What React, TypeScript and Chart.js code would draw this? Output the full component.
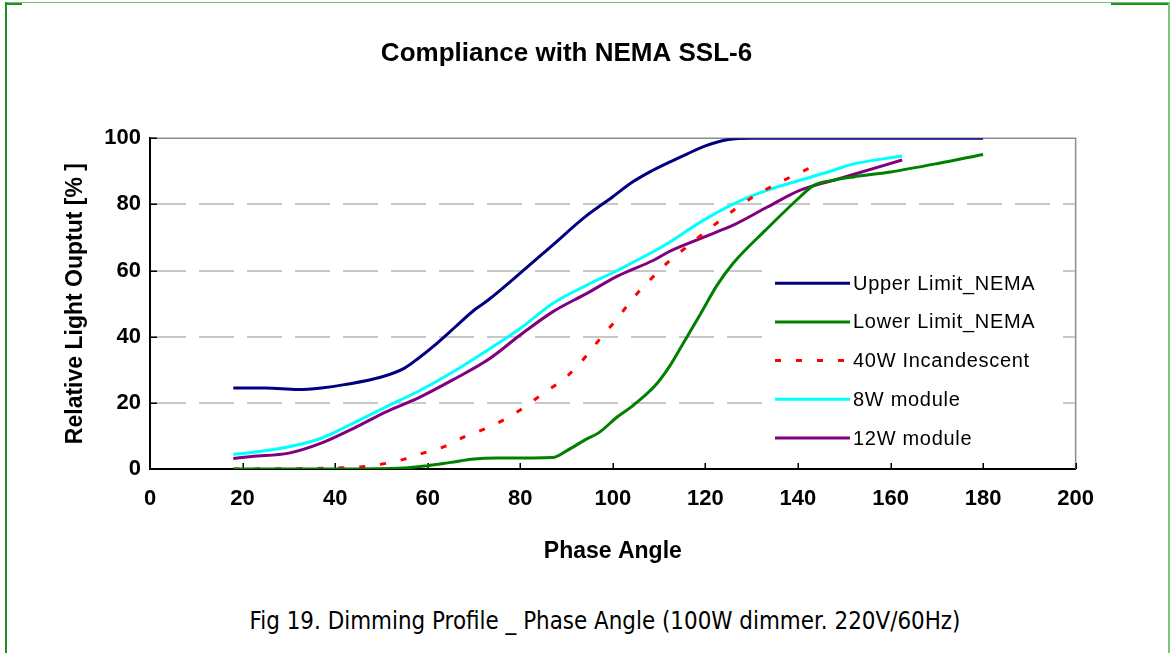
import React, { useEffect, useLayoutEffect, useRef, useState } from "react";
import { Chart, registerables } from "chart.js";

Chart.register(...registerables);

// ---------- data ----------
const titleText = "Compliance with NEMA SSL-6";
const xAxisTitle = "Phase Angle";
const yAxisTitle = "Relative Light Ouptut [% ]";
const captionText = "Fig 19. Dimming Profile _ Phase Angle (100W dimmer. 220V/60Hz)";

const seriesNames = ["Upper Limit_NEMA", "Lower Limit_NEMA", "40W Incandescent", "8W module", "12W module"];

const upperX = [18, 25, 32, 37, 42, 50, 55, 58, 62, 66, 70, 73, 80, 87, 94, 100, 104, 108, 112, 116, 120, 125, 130, 180];
const upperY = [24.5, 24.5, 24, 24.5, 25.5, 27.8, 30.5, 33.5, 38, 43, 48, 51, 59.2, 67.7, 76.2, 82.3, 86.5, 89.8, 92.6, 95.2, 97.7, 99.6, 100, 100];

const lowerX = [18, 40, 55, 60, 65, 70, 75, 87, 90, 94, 97, 101, 104, 109, 112, 115, 119, 122.5, 126, 133, 140.5, 143.5, 147.7, 152, 160, 170, 180];
const lowerY = [0, 0, 0.3, 1, 2, 3, 3.3, 3.5, 5.5, 8.8, 11, 15.8, 18.8, 25, 30.5, 37.5, 47, 55.5, 62.2, 72.2, 82.3, 85.8, 87.3, 88.3, 89.8, 92.3, 95.1];

const incX = [18, 40, 48, 52, 55, 59, 64, 68, 73, 77, 81, 85, 90, 94.4, 97.6, 101, 104, 108, 112, 116, 120, 124, 127, 131, 135.5, 140, 144];
const incY = [0, 0.3, 1, 2, 3, 4.8, 7, 9.8, 12.5, 15.3, 18.8, 22.9, 27.9, 34.4, 40, 45.5, 51, 57.1, 62.6, 67.2, 71.7, 76, 79.2, 82.8, 86.3, 89.3, 92];

const w8X = [18, 22, 30, 37, 44, 51, 58, 65.5, 73, 80, 87, 94.4, 101, 104.4, 109, 112, 119, 126, 133.4, 140.5, 147.7, 151.4, 162.5];
const w8Y = [4.4, 5, 6.7, 9.3, 13.9, 18.8, 23.5, 29.4, 36, 42.5, 50, 55.6, 60, 62.5, 65.9, 68.3, 74.7, 80.1, 84.3, 87.3, 90.3, 92, 94.6];

const w12X = [18, 22, 30, 37, 44, 51, 58, 65.5, 73, 80, 87, 94.4, 101, 108.8, 112, 119, 122.5, 126, 133.4, 140.5, 147.7, 151.4, 162.5];
const w12Y = [3.2, 3.8, 4.8, 7.8, 12.3, 17.3, 21.5, 27, 33, 40.5, 47.5, 53.1, 58.3, 63.1, 65.6, 69.7, 71.7, 73.7, 79.2, 84.3, 87.3, 88.8, 93.4];

const seriesColors = ["#000080", "#008000", "#ff0000", "#00ffff", "#800080"];

// ---------- plugins ----------
const framePlugin = {
  id: "frame",
  beforeDatasetsDraw(chart: any) {
    const { ctx, chartArea: a, scales } = chart;
    const x = scales.x;
    const y = scales.y;
    ctx.save();
    ctx.strokeStyle = "#8c8c8c";
    ctx.lineWidth = 1.5;
    ctx.beginPath();
    ctx.moveTo(a.left, a.top);
    ctx.lineTo(a.right, a.top);
    ctx.lineTo(a.right, a.bottom);
    ctx.stroke();
    ctx.strokeStyle = "#000000";
    ctx.lineWidth = 1.5;
    ctx.beginPath();
    for (const t of x.ticks) {
      if (t.value === 0) continue;
      const px = Math.round(x.getPixelForValue(t.value)) + 0.25;
      ctx.moveTo(px, a.bottom);
      ctx.lineTo(px, a.bottom - 6);
    }
    for (const t of y.ticks) {
      if (t.value === 0) continue;
      const py = Math.round(y.getPixelForValue(t.value)) + 0.25;
      ctx.moveTo(a.left, py);
      ctx.lineTo(a.left + 7, py);
    }
    ctx.stroke();
    ctx.restore();
  },
};

const legendPlugin = {
  id: "boxLegend",
  afterDraw(chart: any) {
    const { ctx, chartArea: a } = chart;
    const left = a.left + 613;
    const top = a.top + 124;
    ctx.save();
    ctx.fillStyle = "#ffffff";
    ctx.fillRect(left, top, 287, 195);
    ctx.font = "20px 'Liberation Sans', Arial, sans-serif";
    (ctx as any).letterSpacing = "0.7px";
    ctx.textBaseline = "middle";
    ctx.textAlign = "left";
    chart.data.datasets.forEach((ds: any, i: number) => {
      const cy = top + 21 + i * 38.7;
      ctx.strokeStyle = ds.borderColor;
      ctx.lineWidth = 3;
      ctx.setLineDash(ds.borderDash || []);
      ctx.beginPath();
      ctx.moveTo(left + 12, cy);
      ctx.lineTo(left + 87, cy);
      ctx.stroke();
      ctx.setLineDash([]);
      ctx.fillStyle = "#000000";
      ctx.fillText(ds.label, left + 90, cy + 1);
    });
    ctx.restore();
  },
};

function pts(xs: number[], ys: number[]) {
  return xs.map((x, i) => ({ x, y: ys[i] }));
}

export default function App() {
  const canvasRef = useRef<HTMLCanvasElement | null>(null);
  const capRef = useRef<HTMLSpanElement | null>(null);
  const [capScale, setCapScale] = useState(1);

  useLayoutEffect(() => {
    if (capRef.current) {
      const w = capRef.current.offsetWidth;
      if (w > 0) setCapScale(711 / w);
    }
  }, []);

  useEffect(() => {
    if (!canvasRef.current) return;
    Chart.defaults.font.family = "'Liberation Sans', Arial, sans-serif";
    const xs = [upperX, lowerX, incX, w8X, w12X];
    const ys = [upperY, lowerY, incY, w8Y, w12Y];
    const chart = new Chart(canvasRef.current, {
      type: "line",
      data: {
        datasets: seriesNames.map((name, i) => ({
          label: name,
          data: pts(xs[i], ys[i]),
          borderColor: seriesColors[i],
          backgroundColor: seriesColors[i],
          borderWidth: 3,
          borderDash: i === 2 ? [6, 15] : [],
          borderCapStyle: "butt",
          pointRadius: 0,
          fill: false,
          cubicInterpolationMode: "monotone",
        })),
      },
      options: {
        animation: false,
        responsive: false,
        layout: { padding: { left: 34, right: 34, top: 0, bottom: 0 } },
        plugins: {
          legend: { display: false },
          tooltip: { enabled: false },
          title: {
            display: true,
            text: titleText,
            color: "#000",
            font: { size: 26, weight: "bold" },
            padding: { top: 33, bottom: 69 },
          },
        },
        scales: {
          x: {
            type: "linear",
            min: 0,
            max: 200,
            afterFit: (s: any) => { s.height = 136; },
            ticks: { stepSize: 20, padding: 17, color: "#000", font: { size: 22, weight: "bold" }, maxRotation: 0 },
            grid: { display: false, drawTicks: false },
            border: { display: true, color: "#000", width: 2 },
            title: { display: true, text: xAxisTitle, color: "#000", font: { size: 23, weight: "bold" }, padding: { top: 0, bottom: 40 } },
          },
          y: {
            type: "linear",
            min: 0,
            max: 100,
            afterFit: (s: any) => { s.width = 94; },
            ticks: { stepSize: 20, padding: 9, color: "#000", font: { size: 22, weight: "bold" } },
            grid: {
              drawTicks: false,
              color: (c: any) => (c.tick && (c.tick.value === 0 || c.tick.value === 100) ? "rgba(0,0,0,0)" : "#c8c8c8"),
              lineWidth: 2,
            },
            border: { display: true, color: "#000", width: 2, dash: [35, 13] },
            title: { display: true, text: yAxisTitle, color: "#000", font: { size: 23, weight: "bold" }, padding: { top: 6, bottom: 0 } },
          },
        },
      },
      plugins: [framePlugin, legendPlugin],
    } as any);
    return () => chart.destroy();
  }, []);

  return (
    <div style={{ position: "absolute", left: 0, top: 0, width: 1170, height: 653, background: "#ffffff", overflow: "hidden" }}>
      <div style={{ position: "absolute", left: 5, top: 2, width: 1165, height: 1, background: "#7cc47c" }} />
      <div style={{ position: "absolute", left: 5, top: 2, width: 2, height: 651, background: "#1f8f1f" }} />
      <div style={{ position: "absolute", left: 5, top: 3, width: 17, height: 2, background: "#1f8f1f" }} />
      <div style={{ position: "absolute", left: 1111, top: 3, width: 59, height: 2, background: "#1f8f1f" }} />
      <div style={{ position: "absolute", left: 1168, top: 2, width: 2, height: 651, background: "#7cc47c" }} />
      <canvas
        ref={canvasRef}
        width={1089}
        height={600}
        style={{ position: "absolute", left: 22, top: 5, width: 1089, height: 600 }}
      />
      <div
        style={{
          position: "absolute",
          left: 604.5,
          top: 606,
          whiteSpace: "nowrap",
          transform: `translateX(-50%) scaleX(${capScale})`,
          transformOrigin: "center",
        }}
      >
        <span
          ref={capRef}
          style={{ display: "inline-block", fontFamily: "'DejaVu Sans', sans-serif", fontSize: 25, lineHeight: "30px", color: "#000" }}
        >
          {captionText}
        </span>
      </div>
    </div>
  );
}
